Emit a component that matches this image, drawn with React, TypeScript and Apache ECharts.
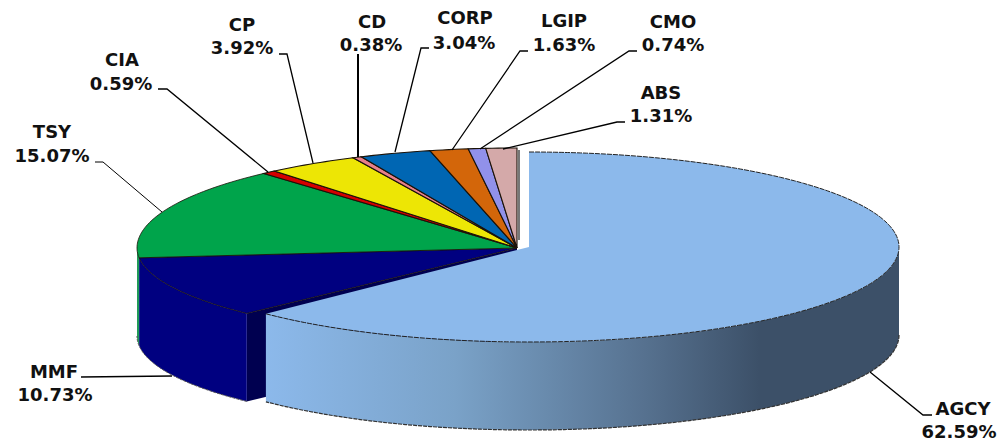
import React, { useEffect, useRef } from "react";
import * as echarts from "echarts";

const categories = ["AGCY", "MMF", "TSY", "CIA", "CP", "CD", "CORP", "LGIP", "CMO", "ABS"];
const values = [62.59, 10.73, 15.07, 0.59, 3.92, 0.38, 3.04, 1.63, 0.74, 1.31];
const colors = ["#8CB9EB", "#000080", "#00A44B", "#D50000", "#EDE605", "#E8808A", "#0066B3", "#D3660A", "#9191EA", "#D4A9A9"];
const wallColors = ["#3C5068", "#000080", "#1F9A58", "#8A0000", "#A09A00", "#A05058", "#004070", "#8A4000", "#6060A0", "#907070"];

// label centres: [name x, name y, percent x, percent y]
const labelLayout: Record<string, number[]> = {
  AGCY: [963, 408, 959, 431.5],
  MMF: [54, 371, 55, 394],
  TSY: [52, 131, 52, 155],
  CIA: [122, 59, 121, 83],
  CP: [242, 24, 242, 47],
  CD: [372, 21, 371, 44],
  CORP: [465, 17, 464, 42],
  LGIP: [564, 20, 564, 44],
  CMO: [673, 21, 673, 44],
  ABS: [661, 92, 661, 115],
};
const leaderLayout: Record<string, number[][]> = {
  AGCY: [[932, 415], [923, 415], [870, 372]],
  MMF: [[81, 377], [172, 376]],
  TSY: [[95, 162], [103, 162], [162, 212]],
  CIA: [[158, 89], [167, 89], [268, 172]],
  CP: [[279, 54], [287, 54], [313, 163]],
  CD: [[358, 54], [358, 157]],
  CORP: [[429, 48], [421, 48], [395, 152]],
  LGIP: [[528, 51], [520, 51], [452, 150]],
  CMO: [[637, 51], [629, 51], [480, 149]],
  ABS: [[625, 122], [617, 122], [503, 149]],
};

const MAIN = { cx: 517, cy: 248, rx: 380, ryBack: 100, ryFront: 93 };
const EXPLODED = { cx: 529, cy: 247, rx: 370, ryBack: 95, ryFront: 95 };
const DEPTH = 88;
const total = values.reduce((a, b) => a + b, 0);

type Geo = typeof MAIN;
const pt = (g: Geo, deg: number, dy = 0): number[] => {
  const t = (deg * Math.PI) / 180;
  const c = Math.cos(t);
  return [g.cx + g.rx * Math.sin(t), g.cy - (c > 0 ? g.ryBack : g.ryFront) * c + dy];
};
const arc = (g: Geo, a: number, b: number, dy = 0): number[][] => {
  const out: number[][] = [];
  const n = Math.max(2, Math.ceil(Math.abs(b - a)));
  for (let i = 0; i <= n; i++) out.push(pt(g, a + ((b - a) * i) / n, dy));
  return out;
};

const wallGradient = new echarts.graphic.LinearGradient(
  265, 0, 899, 0,
  [
    { offset: 0, color: "#8CB9EB" },
    { offset: 0.3, color: "#7AA2C8" },
    { offset: 0.6, color: "#56718F" },
    { offset: 0.78, color: "#3C5068" },
    { offset: 1, color: "#3C5068" },
  ],
  true
);

function renderSlice(params: any) {
  const i = params.dataIndex;
  let start = 0;
  for (let k = 0; k < i; k++) start += values[k];
  const a0 = (start / total) * 360;
  const a1 = ((start + values[i]) / total) * 360;
  const children: any[] = [];
  if (i === 0) {
    const g = EXPLODED;
    const wa = Math.max(a0, 90);
    children.push({
      type: "polygon", z2: 40,
      shape: { points: [...arc(g, wa, a1), ...arc(g, a1, wa, DEPTH)] },
      style: { fill: wallGradient, stroke: "none" },
    });
    children.push({
      type: "polyline", z2: 41,
      shape: { points: arc(g, wa, a1, DEPTH) },
      style: { fill: "none", stroke: "#333", lineWidth: 1.2, lineDash: [4, 1] },
    });
    children.push({
      type: "polygon", z2: 42,
      shape: { points: [[g.cx, g.cy], ...arc(g, a0, a1)] },
      style: { fill: colors[0], stroke: "none" },
    });
    children.push({
      type: "polyline", z2: 43,
      shape: { points: arc(g, a0, a1) },
      style: { fill: "none", stroke: "#222", lineWidth: 1, lineDash: [5, 1] },
    });
    return { type: "group", children };
  }
  const g = MAIN;
  if (i === 1) {
    // radial wall exposed by the pulled-out slice
    const p = pt(g, a0);
    children.push({
      type: "polygon", z2: 3,
      shape: { points: [[g.cx, g.cy], p, [p[0], p[1] + DEPTH], [g.cx, g.cy + DEPTH]] },
      style: { fill: "#000050", stroke: "none" },
    });
  }
  const wa0 = a0, wa1 = Math.min(a1, 270);
  if (wa0 < 270) {
    children.push({
      type: "polygon", z2: 4,
      shape: { points: [...arc(g, wa0, wa1), ...arc(g, wa1, wa0, DEPTH)] },
      style: { fill: wallColors[i], stroke: "none" },
    });
    children.push({
      type: "polyline", z2: 5,
      shape: { points: arc(g, wa0, wa1, DEPTH) },
      style: { fill: "none", stroke: "#555", lineWidth: 1, lineDash: [3, 1] },
    });
  }
  children.push({
    type: "polygon", z2: 10 + i,
    shape: { points: [[g.cx, g.cy], ...arc(g, a0, a1)] },
    style: { fill: colors[i], stroke: "#1a1208", lineWidth: i <= 2 ? 0.8 : 1.1, lineJoin: "miter" },
  });
  if (i === categories.length - 1) {
    children.push({
      type: "line", z2: 30,
      shape: { x1: g.cx + 2, y1: g.cy - g.ryBack + 2, x2: g.cx + 2, y2: g.cy - 8 },
      style: { stroke: "#777", lineWidth: 2 },
    });
  }
  return { type: "group", children };
}

export default function App() {
  const ref = useRef<HTMLDivElement>(null);
  useEffect(() => {
    document.body.style.margin = "0";
    const chart = echarts.init(ref.current!, null, { renderer: "svg" });
    const font = 'bold 18px "DejaVu Sans", Verdana, sans-serif';
    const graphics: any[] = [];
    categories.forEach((name, i) => {
      const l = labelLayout[name];
      graphics.push({
        type: "text", z: 20,
        style: { text: name, x: l[0], y: l[1], align: "center", verticalAlign: "middle", font, fill: "#111" },
      });
      graphics.push({
        type: "text", z: 20,
        style: { text: values[i].toFixed(2) + "%", x: l[2], y: l[3], align: "center", verticalAlign: "middle", font, fill: "#111" },
      });
      graphics.push({
        type: "polyline", z: 20,
        shape: { points: leaderLayout[name] },
        style: { fill: "none", stroke: "#000", lineWidth: name === "CD" ? 2 : name === "TSY" ? 1 : 1.3 },
      });
    });
    chart.setOption({
      animation: false,
      backgroundColor: "#fff",
      graphic: graphics,
      series: [
        {
          type: "custom",
          coordinateSystem: "none",
          renderItem: renderSlice,
          data: values,
          silent: true,
        },
      ],
    });
    return () => chart.dispose();
  }, []);
  return <div ref={ref} style={{ position: "absolute", left: 0, top: 0, width: 1005, height: 441 }} />;
}
